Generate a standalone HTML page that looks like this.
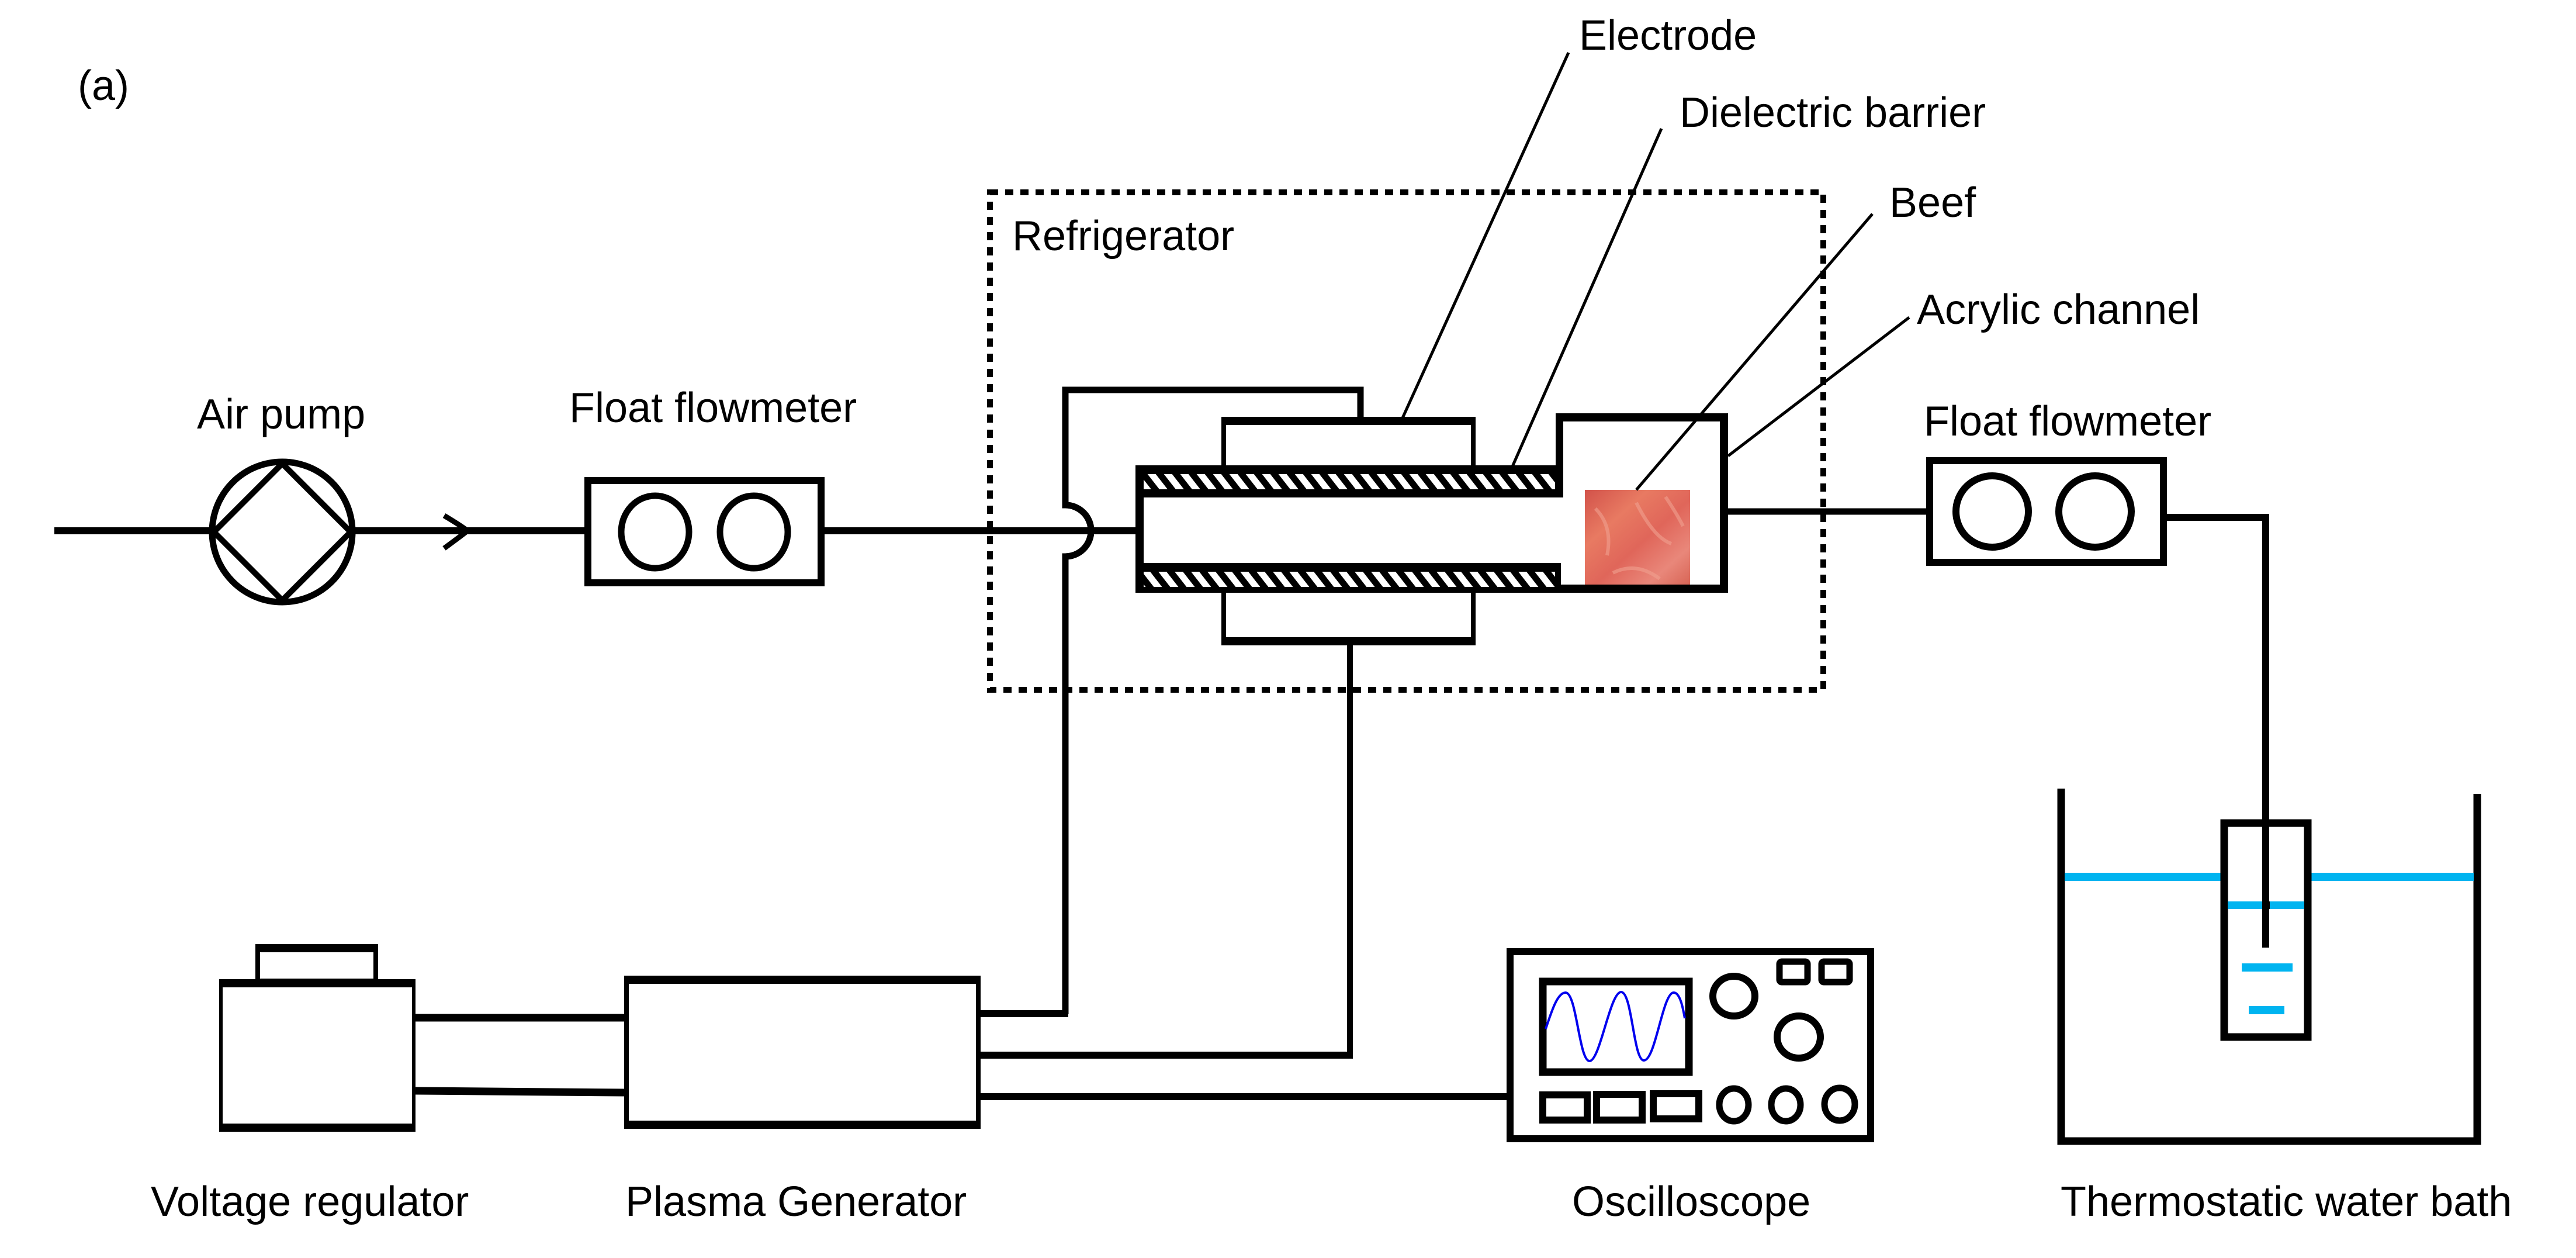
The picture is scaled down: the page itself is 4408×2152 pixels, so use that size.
<!DOCTYPE html>
<html><head><meta charset="utf-8"><style>
html,body{margin:0;padding:0;background:#fff;}
svg{display:block;}
text{font-family:"Liberation Sans",Arial,sans-serif;font-size:72px;fill:#000;}
</style></head><body>
<svg width="4408" height="2152" viewBox="0 0 4408 2152" xmlns="http://www.w3.org/2000/svg">
<defs>
<pattern id="hatch" patternUnits="userSpaceOnUse" width="28" height="26" patternTransform="skewX(38)">
<rect x="0" y="0" width="28" height="26" fill="#fff"/>
<rect x="0" y="0" width="14" height="26" fill="#000"/>
</pattern>
<linearGradient id="beef" x1="0" y1="0" x2="1" y2="1">
<stop offset="0" stop-color="#d2524a"/>
<stop offset="0.3" stop-color="#e87a62"/>
<stop offset="0.55" stop-color="#e0665a"/>
<stop offset="0.8" stop-color="#e9877a"/>
<stop offset="1" stop-color="#d86556"/>
</linearGradient>
</defs>

<text x="133" y="171">(a)</text>

<line x1="93" y1="908" x2="360" y2="908" stroke="#000" stroke-width="12"/>
<circle cx="483" cy="910" r="120" fill="none" stroke="#000" stroke-width="11"/>
<polygon points="483,793 600,910 483,1027 366,910" fill="none" stroke="#000" stroke-width="10"/>
<line x1="603" y1="908" x2="1003" y2="908" stroke="#000" stroke-width="12"/>
<path d="M760 882 Q790 900 800 908 Q790 916 760 938" fill="none" stroke="#000" stroke-width="9"/>
<text x="337" y="733">Air pump</text>

<rect x="1006" y="822" width="399" height="175" fill="none" stroke="#000" stroke-width="12"/>
<ellipse cx="1121" cy="910" rx="58" ry="62" fill="none" stroke="#000" stroke-width="11"/>
<ellipse cx="1290" cy="910" rx="58" ry="62" fill="none" stroke="#000" stroke-width="11"/>
<text x="974" y="722">Float flowmeter</text>
<line x1="1405" y1="908" x2="1944" y2="908" stroke="#000" stroke-width="12"/>

<rect x="1694" y="329" width="1426" height="851" fill="none" stroke="#000" stroke-width="10" stroke-dasharray="14 12"/>
<text x="1732" y="428">Refrigerator</text>

<path d="M1823 1735 L1823 952 A44 44 0 0 0 1823 864 L1823 667 L2328 667 L2328 715" fill="none" stroke="#000" stroke-width="11"/>
<path d="M1823 864 A44 44 0 0 1 1823 952" fill="none" stroke="#000" stroke-width="11"/>

<path d="M2094 799 L2094 721 L2521 721 L2521 799" fill="none" stroke="#000" stroke-width="8"/>
<rect x="2090" y="713" width="435" height="14" fill="#000"/>
<path d="M2094 1013 L2094 1096 L2521 1096 L2521 1013" fill="none" stroke="#000" stroke-width="8"/>
<rect x="2090" y="1090" width="435" height="14" fill="#000"/>
<line x1="2310" y1="1104" x2="2310" y2="1808" stroke="#000" stroke-width="10"/>

<rect x="1943" y="796" width="728" height="55" fill="#000"/>
<rect x="1957" y="811" width="704" height="26" fill="url(#hatch)"/>
<rect x="1943" y="963" width="728" height="51" fill="#000"/>
<rect x="1957" y="978" width="704" height="26" fill="url(#hatch)"/>
<rect x="1943" y="796" width="14" height="218" fill="#000"/>

<rect x="2662" y="707" width="295" height="14" fill="#000"/>
<rect x="2662" y="707" width="13" height="144" fill="#000"/>
<rect x="2943" y="707" width="14" height="307" fill="#000"/>
<rect x="2662" y="1000" width="295" height="14" fill="#000"/>
<rect x="2712" y="838" width="180" height="162" fill="url(#beef)"/>
<path d="M2730 870 Q2760 900 2750 950 M2800 860 Q2830 920 2860 930 M2760 980 Q2800 960 2840 990 M2850 850 Q2870 880 2880 900" stroke="#f0a090" stroke-width="6" fill="none" opacity="0.6"/>

<line x1="2400" y1="715" x2="2684" y2="90" stroke="#000" stroke-width="5"/>
<line x1="2588" y1="798" x2="2843" y2="220" stroke="#000" stroke-width="5"/>
<line x1="2800" y1="838" x2="3204" y2="366" stroke="#000" stroke-width="5"/>
<line x1="2957" y1="780" x2="3267" y2="543" stroke="#000" stroke-width="5"/>
<text x="2702" y="85">Electrode</text>
<text x="2874" y="217">Dielectric barrier</text>
<text x="3233" y="371">Beef</text>
<text x="3280" y="554">Acrylic channel</text>

<line x1="2957" y1="875" x2="3296" y2="875" stroke="#000" stroke-width="11"/>
<rect x="3302" y="788" width="400" height="174" fill="none" stroke="#000" stroke-width="12"/>
<ellipse cx="3409" cy="875" rx="62" ry="61" fill="none" stroke="#000" stroke-width="12"/>
<ellipse cx="3585" cy="875" rx="62" ry="61" fill="none" stroke="#000" stroke-width="12"/>
<text x="3292" y="745">Float flowmeter</text>
<path d="M3708 885 L3877 885 L3877 1621" fill="none" stroke="#000" stroke-width="12"/>

<path d="M3527 1349 L3527 1952 L4239 1952 L4239 1358" fill="none" stroke="#000" stroke-width="13"/>
<rect x="3533" y="1493" width="267" height="14" fill="#00b4f0"/>
<rect x="3955" y="1493" width="278" height="14" fill="#00b4f0"/>
<rect x="3806" y="1408" width="143" height="366" fill="none" stroke="#000" stroke-width="13"/>
<rect x="3812" y="1542" width="131" height="13" fill="#00b4f0"/>
<rect x="3871" y="1542" width="13" height="13" fill="#000"/>
<rect x="3836" y="1648" width="87" height="14" fill="#00b4f0"/>
<rect x="3848" y="1721" width="61" height="14" fill="#00b4f0"/>
<text x="3526" y="2080">Thermostatic water bath</text>

<rect x="441" y="1620" width="202" height="58" fill="none" stroke="#000" stroke-width="8"/>
<rect x="437" y="1615" width="210" height="14" fill="#000"/>
<rect x="378" y="1681" width="330" height="252" fill="none" stroke="#000" stroke-width="6"/>
<rect x="375" y="1675" width="336" height="14" fill="#000"/>
<rect x="375" y="1922" width="336" height="14" fill="#000"/>
<line x1="711" y1="1741" x2="1068" y2="1741" stroke="#000" stroke-width="13"/>
<line x1="711" y1="1866" x2="1068" y2="1869" stroke="#000" stroke-width="13"/>
<text x="258" y="2080">Voltage regulator</text>

<rect x="1072" y="1675" width="602" height="250" fill="none" stroke="#000" stroke-width="8"/>
<rect x="1068" y="1669" width="610" height="14" fill="#000"/>
<rect x="1068" y="1917" width="610" height="14" fill="#000"/>
<line x1="1678" y1="1734" x2="1828" y2="1734" stroke="#000" stroke-width="12"/>
<line x1="1678" y1="1805" x2="2315" y2="1805" stroke="#000" stroke-width="12"/>
<line x1="1678" y1="1876" x2="2580" y2="1876" stroke="#000" stroke-width="12"/>
<text x="1070" y="2080">Plasma Generator</text>

<rect x="2584" y="1628" width="617" height="320" fill="none" stroke="#000" stroke-width="12"/>
<rect x="2640" y="1679" width="250" height="155" fill="none" stroke="#000" stroke-width="13"/>
<path d="M2645 1760 C2655 1730 2665 1698 2679 1698 C2698 1698 2702 1815 2720 1815 C2738 1815 2755 1697 2774 1697 C2793 1697 2795 1814 2813 1814 C2833 1814 2845 1698 2864 1698 C2875 1698 2880 1725 2883 1742" fill="none" stroke="#0000ee" stroke-width="4"/>
<ellipse cx="2967" cy="1704" rx="36" ry="34" fill="none" stroke="#000" stroke-width="12"/>
<ellipse cx="3078" cy="1774" rx="37" ry="36" fill="none" stroke="#000" stroke-width="12"/>
<rect x="3045" y="1645" width="48" height="35" rx="4" fill="none" stroke="#000" stroke-width="11"/>
<rect x="3117" y="1645" width="48" height="35" rx="4" fill="none" stroke="#000" stroke-width="11"/>
<rect x="2640" y="1873" width="76" height="43" fill="none" stroke="#000" stroke-width="12"/>
<rect x="2732" y="1872" width="78" height="44" fill="none" stroke="#000" stroke-width="12"/>
<rect x="2829" y="1871" width="78" height="43" fill="none" stroke="#000" stroke-width="12"/>
<ellipse cx="2967" cy="1890" rx="25" ry="28" fill="none" stroke="#000" stroke-width="11"/>
<ellipse cx="3056" cy="1890" rx="25" ry="28" fill="none" stroke="#000" stroke-width="11"/>
<ellipse cx="3148" cy="1889" rx="26" ry="28" fill="none" stroke="#000" stroke-width="11"/>
<text x="2690" y="2080">Oscilloscope</text>
</svg>
</body></html>
